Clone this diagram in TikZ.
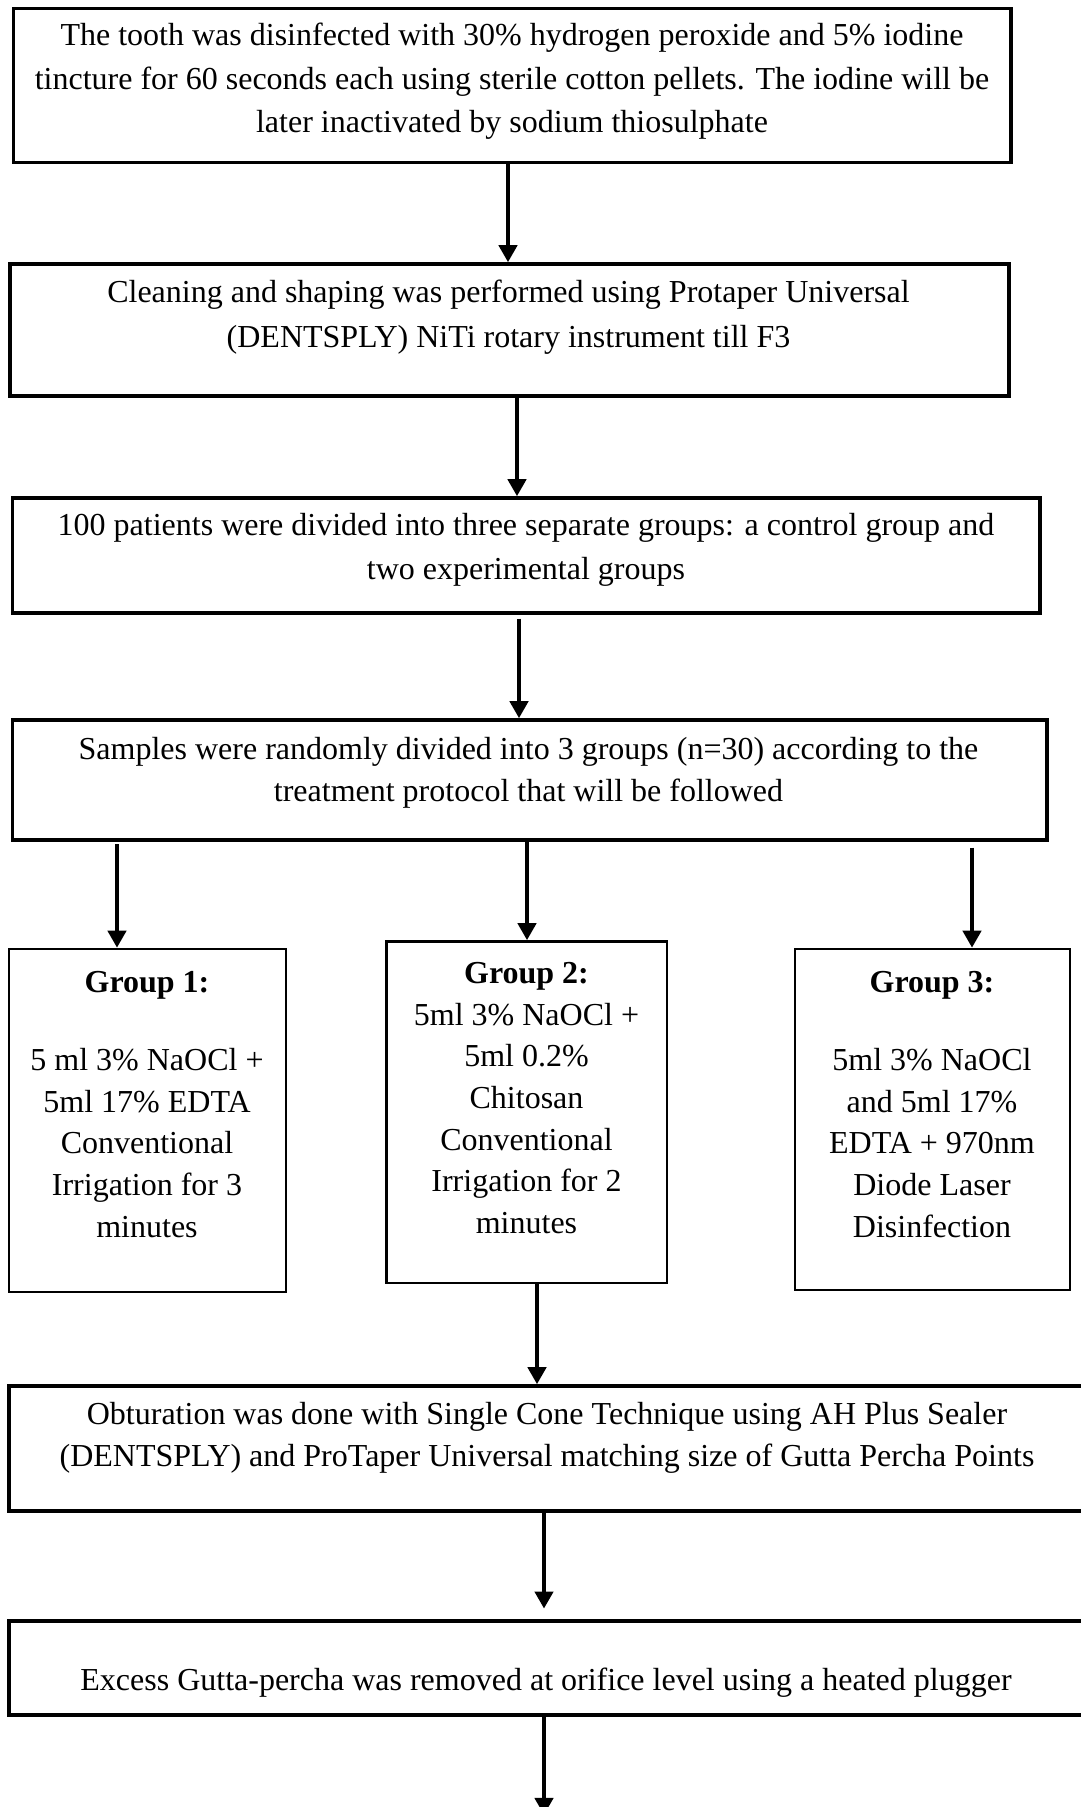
\documentclass[tikz,border=0pt]{standalone}
\usepackage{fontspec}
\setmainfont{Liberation Serif}
\usetikzlibrary{arrows.meta,fit}
\begin{document}
\begin{tikzpicture}[x=0.375pt,y=-0.375pt,
  mainbox/.style={draw=black, line width=1.3pt, inner sep=0pt, rectangle},
  grpbox/.style={draw=black, line width=0.95pt, inner sep=0pt, rectangle},
  arr/.style={line width=1.69pt, -{Triangle[width=6.75pt,length=6.4pt]}},
  txt/.style={align=center, inner sep=0pt},
  fmain/.style={font=\fontsize{12pt}{16.3pt}\selectfont},
  fgrp/.style={font=\fontsize{12pt}{15.64pt}\selectfont}]
\useasboundingbox (0,0) rectangle (1080,1807);

% boxes
\node[mainbox, fit={(13.5,8.5) (1011,162.5)}] (b1) {};
\node[mainbox, fit={(10,264) (1009,396)}] (b2) {};
\node[mainbox, fit={(12.5,498) (1040,613)}] (b3) {};
\node[mainbox, fit={(12.5,720) (1047,840)}] (b4) {};
\node[grpbox, fit={(9,949) (286,1292)}] (g1) {};
\node[grpbox, fit={(386.5,941.5) (667,1283)}] (g2) {};
\node[grpbox, fit={(795,949) (1070,1290)}] (g3) {};
\node[mainbox, fit={(9,1386) (1085,1511)}] (b5) {};
\node[mainbox, fit={(9,1621) (1085,1715)}] (b6) {};

% texts
\node[txt, fmain] (t1) at (512,81.5) {The tooth was disinfected with 30\% hydrogen peroxide and 5\% iodine\\tincture for 60 seconds each using sterile cotton pellets. The iodine will be\\later inactivated by sodium thiosulphate};
\node[txt, fmain, font=\fontsize{12pt}{16.9pt}\selectfont] (t2) at (508.5,317.5) {Cleaning and shaping was performed using Protaper Universal\\(DENTSPLY) NiTi rotary instrument till F3};
\node[txt, fmain, font=\fontsize{12pt}{16.5pt}\selectfont] (t3) at (526,550) {100 patients were divided into three separate groups: a control group and\\two experimental groups};
\node[txt, fmain, font=\fontsize{12pt}{15.75pt}\selectfont] (t4) at (528.5,773) {Samples were randomly divided into 3 groups (n=30) according to the\\treatment protocol that will be followed};
\node[txt, fgrp] (tg1) at (147,1104.5) {\textbf{Group 1:}\\[13.6pt]5 ml 3\% NaOCl +\\5ml 17\% EDTA\\Conventional\\Irrigation for 3\\minutes};
\node[txt, fgrp] (tg2) at (526.5,1098) {\textbf{Group 2:}\\5ml 3\% NaOCl +\\5ml 0.2\%\\Chitosan\\Conventional\\Irrigation for 2\\minutes};
\node[txt, fgrp] (tg3) at (932,1104.5) {\textbf{Group 3:}\\[13.6pt]5ml 3\% NaOCl\\and 5ml 17\%\\EDTA + 970nm\\Diode Laser\\Disinfection};
\node[txt, fmain, font=\fontsize{12pt}{15.75pt}\selectfont] (t5) at (547,1438) {Obturation was done with Single Cone Technique using AH Plus Sealer\\(DENTSPLY) and ProTaper Universal matching size of Gutta Percha Points};
\node[txt, fmain] (t6) at (546,1683) {Excess Gutta-percha was removed at orifice level using a heated plugger};

% arrow x positions
\coordinate (c1) at (508,0);
\coordinate (c2) at (517,0);
\coordinate (c3) at (519,0);
\coordinate (cg1) at (117,0);
\coordinate (cg2) at (527,0);
\coordinate (cg3) at (972,0);
\coordinate (c5) at (537,0);
\coordinate (c6) at (544,0);
\coordinate (end) at (544,1815);

% connectors
\draw[arr] (b1.south -| c1) -- (b2.north -| c1);
\draw[arr] (b2.south -| c2) -- (b3.north -| c2);
\draw[arr, shorten <=1.5pt] (b3.south -| c3) -- (b4.north -| c3);
\draw[arr, shorten <=1pt] (b4.south -| cg1) -- (g1.north -| cg1);
\draw[arr] (b4.south -| cg2) -- (g2.north -| cg2);
\draw[arr, shorten <=2.2pt] (b4.south -| cg3) -- (g3.north -| cg3);
\draw[arr] (g2.south -| c5) -- (b5.north -| c5);
\draw[arr, shorten >=4pt] (b5.south -| c6) -- (b6.north -| c6);
\draw[arr] (b6.south -| c6) -- (end);
\end{tikzpicture}
\end{document}
